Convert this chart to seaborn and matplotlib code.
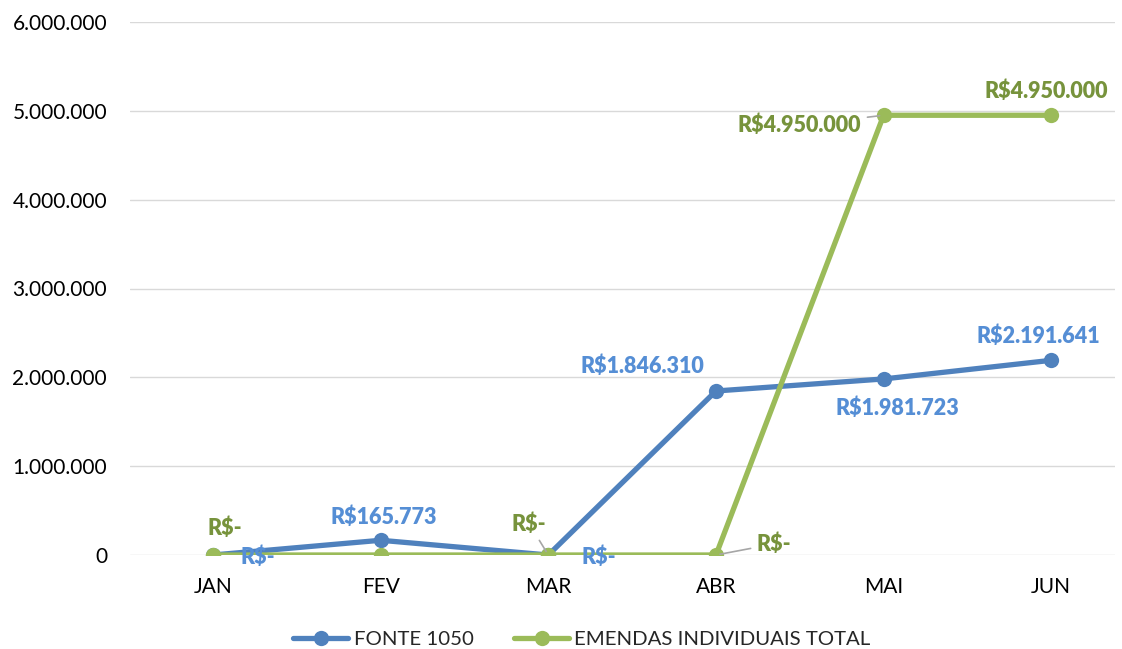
import numpy as np
import pandas as pd
import matplotlib
matplotlib.use('Agg')
import matplotlib.pyplot as plt
import seaborn as sns
from matplotlib.ticker import FuncFormatter

sns.set_style('white')
plt.rcParams['font.family'] = ['Lato', 'DejaVu Sans']

months = ['JAN', 'FEV', 'MAR', 'ABR', 'MAI', 'JUN']
fonte = [0, 165773, 0, 1846310, 1981723, 2191641]
emendas = [0, 0, 0, 0, 4950000, 4950000]

blue = '#4f81bd'
green = '#9bbb59'
blue_lbl = '#558ed5'
green_lbl = '#77933c'

df = pd.DataFrame({'mes': months, 'FONTE 1050': fonte,
                   'EMENDAS INDIVIDUAIS TOTAL': emendas})
df['x'] = np.arange(len(months))

fig = plt.figure(figsize=(11.22, 6.49), dpi=100)
ax = fig.add_axes([130/1122, 94/649, 985/1122, 533/649])

sns.lineplot(data=df, x='x', y='FONTE 1050', ax=ax, color=blue, lw=3.8,
             marker='o', markersize=11, markeredgewidth=0, label='FONTE 1050')
sns.lineplot(data=df, x='x', y='EMENDAS INDIVIDUAIS TOTAL', ax=ax, color=green, lw=3.8,
             marker='o', markersize=11, markeredgewidth=0, label='EMENDAS INDIVIDUAIS TOTAL')

def fmt(v):
    if v == 0:
        return 'R$-'
    return 'R$' + f'{v:,.0f}'.replace(',', '.')

# label offsets in pixels (dx, dy) and whether a leader line is drawn
blue_off = [(45, -2), (3, 23), (51, -2), (-74, 25), (14, -29), (-13, 24)]
green_off = [(12, 27), None, (-19, 31), (58, 11), (-84, -10), (-5, 24)]
green_leader = [False, False, True, True, True, False]

for i, v in enumerate(fonte):
    dx, dy = blue_off[i]
    ax.annotate(fmt(v), (i, v), xytext=(dx, dy), textcoords='offset pixels',
                ha='center', va='center', color=blue_lbl, fontsize=15.5,
                fontweight='heavy')
for i, v in enumerate(emendas):
    if green_off[i] is None:
        continue
    dx, dy = green_off[i]
    ap = None
    if green_leader[i]:
        ap = dict(arrowstyle='-', color='#a6a6a6', lw=1.2, shrinkA=2, shrinkB=3)
    ax.annotate(fmt(v), (i, v), xytext=(dx, dy), textcoords='offset pixels',
                ha='center', va='center', color=green_lbl, fontsize=15.5,
                fontweight='heavy', arrowprops=ap)

ax.set_xlim(-0.495, 5.38)
ax.set_ylim(0, 6000000)
ax.set_yticks(np.arange(0, 6000001, 1000000))
ax.yaxis.set_major_formatter(FuncFormatter(lambda v, p: '0' if v == 0 else f'{v:,.0f}'.replace(',', '.')))
ax.set_xticks(df['x'])
ax.set_xticklabels(months)
ax.tick_params(axis='both', length=0, labelsize=15, colors='black')
ax.tick_params(axis='y', pad=16.5)
ax.tick_params(axis='x', pad=16)
ax.grid(axis='y', color='#d9d9d9', lw=1)
ax.set_axisbelow(True)
for s in ax.spines.values():
    s.set_visible(False)
ax.set_xlabel('')
ax.set_ylabel('')

ax.legend(loc='center', bbox_to_anchor=(582/1122, 10/649), bbox_transform=fig.transFigure,
          ncol=2, frameon=False, fontsize=14.7, handlelength=2.7, columnspacing=2.0,
          handletextpad=0.25)

fig.savefig('out.png', dpi=100)
